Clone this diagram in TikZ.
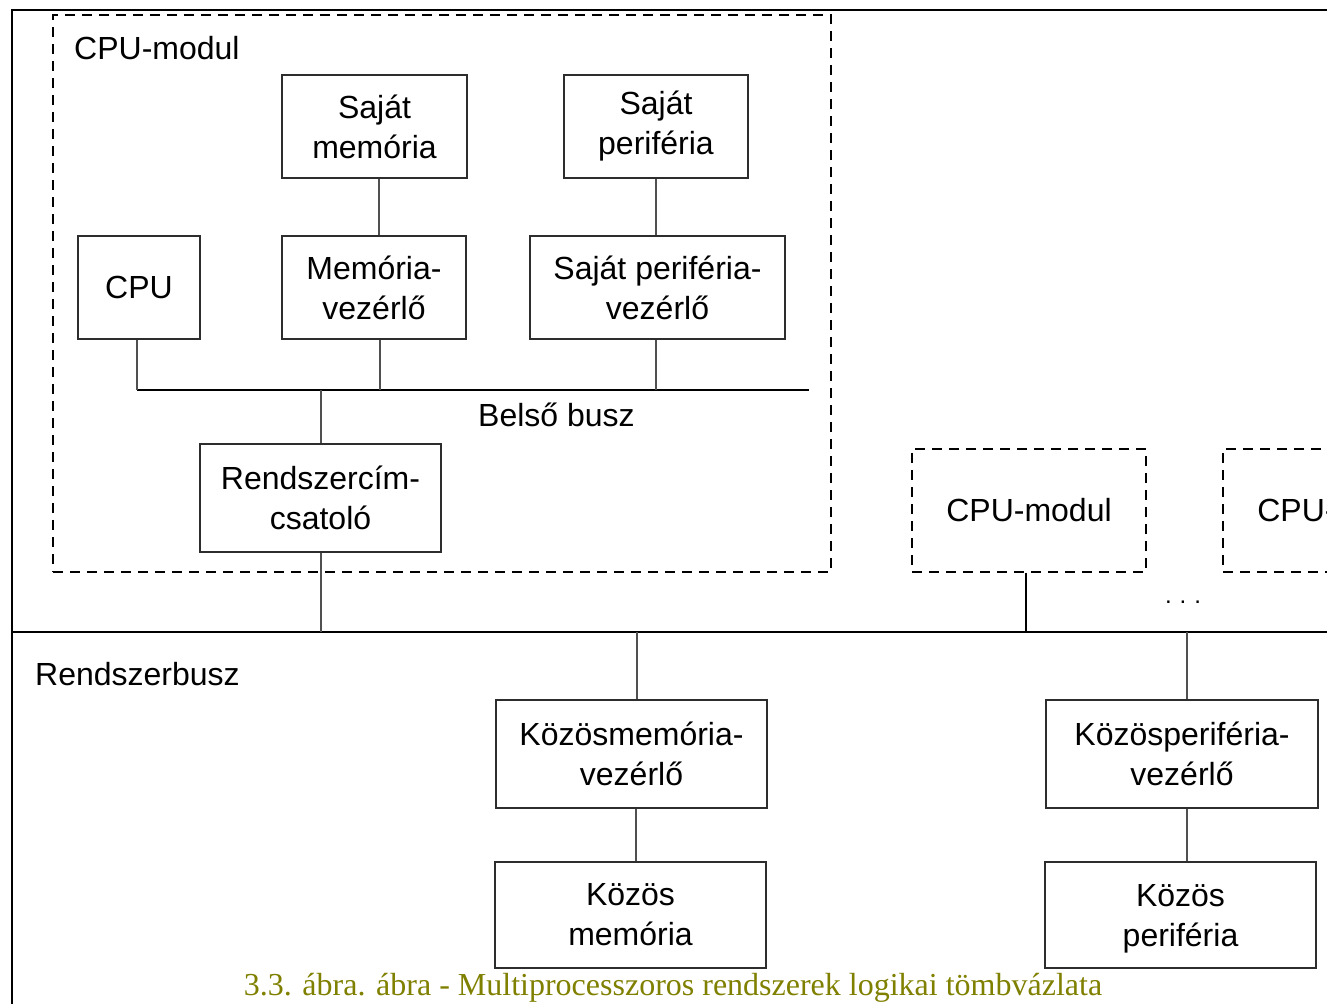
\documentclass[tikz,border=0pt]{standalone}
\usepackage{fontspec}
\setmainfont{Liberation Sans}
\newfontfamily\captionserif{Liberation Serif}
\definecolor{boxgray}{RGB}{45,45,45}
\definecolor{linegray}{RGB}{80,80,80}
\definecolor{captionolive}{RGB}{128,128,0}
\begin{document}
\begin{tikzpicture}[x=1pt,y=-1pt,
  blk/.style={draw=boxgray, line width=2pt, inner sep=0pt, align=center,
    font=\fontsize{32}{40}\selectfont},
  modbox/.style={draw=black, line width=1.6pt, dash pattern=on 10pt off 7pt,
    inner sep=0pt, align=center, font=\fontsize{32}{40}\selectfont},
  lbl/.style={inner sep=0pt, font=\fontsize{32}{40}\selectfont},
  wire/.style={draw=linegray, line width=2pt},
  bus/.style={draw=black, line width=2.5pt},
  frame/.style={draw=black, line width=2pt}]
\useasboundingbox (0,0) rectangle (1327,1004);

% outer frame
\coordinate (fBL) at (12,1004);
\coordinate (fTL) at (12,10);
\coordinate (fTR) at (1327,10);
\draw[frame] (fBL) -- (fTL) -- (fTR);

% first CPU module (expanded)
\node[modbox, minimum width=778pt, minimum height=557pt] (mod) at (442,293.5) {};
\node[lbl, anchor=west] (modlbl) at (74,48) {CPU-modul};

\node[blk, minimum width=185pt, minimum height=103pt] (smem) at (374.5,126.5) {Saját\\memória};
\node[blk, minimum width=184pt, minimum height=103pt] (sper) at (656,126.5) {Saját\\periféria};
\node[blk, minimum width=122pt, minimum height=103pt] (cpu) at (139,287.5) {CPU};
\node[blk, minimum width=184pt, minimum height=103pt] (mvez) at (374,287.5) {Memória-\\vezérlő};
\node[blk, minimum width=255pt, minimum height=103pt] (spvez) at (657.5,287.5) {Saját periféria-\\vezérlő};
\node[blk, minimum width=241pt, minimum height=108pt] (rcs) at (320.5,498) {Rendszercím-\\csatoló};

% internal bus
\coordinate (ibL) at (137,390);
\coordinate (ibR) at (809,390);
\draw[bus] (ibL) -- (ibR);
\node[lbl, anchor=west] (iblbl) at (478,415) {Belső busz};

\draw[wire] ([xshift=4.5pt]smem.south) -- ([xshift=5pt]mvez.north);
\draw[wire] (sper.south) -- (spvez.north -| sper.south);
\draw[wire] (cpu.south -| ibL) -- (ibL);
\draw[wire] ([xshift=6pt]mvez.south) -- ([xshift=6pt]mvez.south |- ibL);
\draw[wire] ([xshift=-1.5pt]spvez.south) -- ([xshift=-1.5pt]spvez.south |- ibL);
\draw[wire] (rcs.north) -- (rcs.north |- ibL);

% system bus
\coordinate (sbL) at (12,632);
\coordinate (sbR) at (1327,632);
\draw[bus, line width=2.8pt] (sbL) -- (sbR);
\node[lbl, anchor=west] (sblbl) at (35,674) {Rendszerbusz};
\draw[wire] (rcs.south) -- (rcs.south |- sbL);

% further CPU modules
\node[modbox, minimum width=234pt, minimum height=123pt] (mod2) at (1029,510.5) {CPU-modul};
\draw[wire, draw=black] ([xshift=-3pt]mod2.south) -- ([xshift=-3pt]mod2.south |- sbL);
\begin{scope}
  \clip (0,0) rectangle (1327,1004);
  \node[modbox, minimum width=234pt, minimum height=123pt] (mod3) at (1340,510.5) {CPU-modul};
\end{scope}
\node[lbl, font=\fontsize{24}{24}\selectfont] (dots) at (1183,602) {.\hspace{8pt}.\hspace{8pt}.};

% shared memory
\node[blk, minimum width=271pt, minimum height=108pt] (kmv) at (631.5,754) {Közösmemória-\\vezérlő};
\node[blk, minimum width=271pt, minimum height=106pt] (kmem) at (630.5,915) {Közös\\memória};
\draw[wire] ([xshift=5.5pt]kmv.north) -- ([xshift=5.5pt]kmv.north |- sbL);
\draw[wire] ([xshift=4.5pt]kmv.south) -- ([xshift=5.5pt]kmem.north);

% shared peripheral
\node[blk, minimum width=272pt, minimum height=108pt] (kpv) at (1182,754) {Közösperiféria-\\vezérlő};
\node[blk, minimum width=271pt, minimum height=106pt] (kper) at (1180.5,915) {};
\node[lbl, align=center] (kpertext) at ([yshift=-4pt]kper.center) {Közös\\periféria};
\draw[wire] ([xshift=5pt]kpv.north) -- ([xshift=5pt]kpv.north |- sbL);
\draw[wire] ([xshift=5pt]kpv.south) -- ([xshift=6.5pt]kper.north);

% caption
\node[inner sep=0pt, text=captionolive, font=\captionserif\fontsize{32}{32}\selectfont] (cap) at (673,988)
  {3.3. ábra. ábra - Multiprocesszoros rendszerek logikai tömbvázlata};
\end{tikzpicture}
\end{document}
